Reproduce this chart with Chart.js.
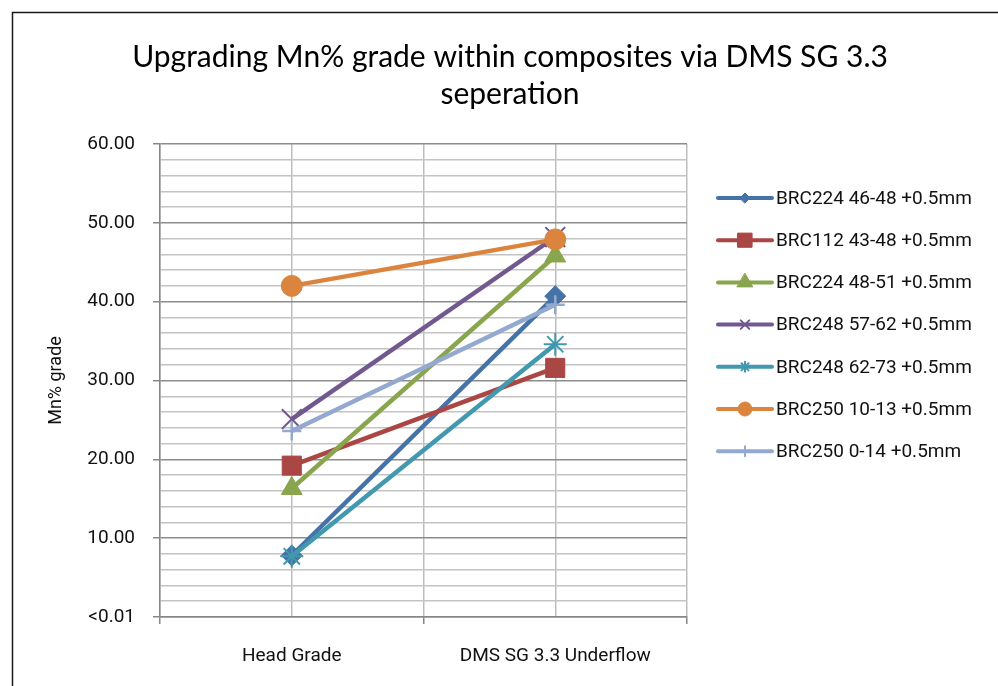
<!DOCTYPE html>
<html>
<head>
<meta charset="utf-8">
<script src="https://cdn.jsdelivr.net/npm/chart.js@4/dist/chart.umd.min.js"></script>
<style>
  html, body { margin: 0; padding: 0; background: #ffffff; }
  #wrap { position: relative; width: 998px; height: 686px; }
  canvas { display: block; }
</style>
</head>
<body>
<div id="wrap"><canvas id="c" width="998" height="686"></canvas></div>
<script>
// ---- data ----
const categories = ['Head Grade', 'DMS SG 3.3 Underflow'];
const seriesNames = [
  'BRC224 46-48 +0.5mm',
  'BRC112 43-48 +0.5mm',
  'BRC224 48-51 +0.5mm',
  'BRC248 57-62 +0.5mm',
  'BRC248 62-73 +0.5mm',
  'BRC250 10-13 +0.5mm',
  'BRC250 0-14 +0.5mm'
];
const brc224_46_48 = [7.8, 40.7];
const brc112_43_48 = [19.2, 31.6];
const brc224_48_51 = [16.3, 45.8];
const brc248_57_62 = [25.1, 48.2];
const brc248_62_73 = [7.7, 34.6];
const brc250_10_13 = [42.0, 47.9];
const brc250_0_14  = [23.6, 39.6];
const yTickLabels = ['<0.01', '10.00', '20.00', '30.00', '40.00', '50.00', '60.00'];
const titleLines = ['Upgrading Mn% grade within composites via DMS SG 3.3', 'seperation'];
const yTitle = 'Mn% grade';

// ---- styles ----
const seriesValues = [brc224_46_48, brc112_43_48, brc224_48_51, brc248_57_62, brc248_62_73, brc250_10_13, brc250_0_14];
const colors = ['#4572A7', '#AA4643', '#89A54E', '#71588F', '#4198AF', '#DB843D', '#93A9CF'];
const markers = ['rectRot', 'rect', 'triangle', 'crossRot', 'star', 'circle', 'cross'];
const markerRadius = [10.5, 13.5, 12, 14, 11.5, 10.5, 9.5];
const markerBorder = [1, 1, 1, 2, 2, 1, 2.5];
const legendRadius = [5, 10, 9, 6, 5, 7, 5];

const FONT = 'Roboto, "Liberation Sans", Arial, sans-serif';

const datasets = seriesValues.map((vals, i) => ({
  label: seriesNames[i],
  data: vals.map((v, k) => ({ x: k, y: v })),
  borderColor: colors[i],
  backgroundColor: colors[i],
  borderWidth: 4.5,
  pointStyle: markers[i],
  pointRadius: markerRadius[i],
  pointHoverRadius: markerRadius[i],
  pointBorderWidth: markerBorder[i],
  pointBorderColor: colors[i],
  pointBackgroundColor: colors[i],
  tension: 0,
  order: -i
}));

const framePlugin = {
  id: 'frame',
  beforeDraw(chart) {
    const ctx = chart.ctx;
    ctx.save();
    ctx.fillStyle = '#ffffff';
    ctx.fillRect(0, 0, chart.width, chart.height);
    ctx.strokeStyle = '#1a1a1a';
    ctx.lineWidth = 1.5;
    ctx.beginPath();
    ctx.moveTo(12.5, chart.height + 2);
    ctx.lineTo(12.5, 12.5);
    ctx.lineTo(chart.width + 2, 12.5);
    ctx.stroke();
    ctx.restore();
  }
};

const legendPlugin = {
  id: 'customLegend',
  afterDraw(chart) {
    const ctx = chart.ctx;
    const x0 = 718, x1 = 772, y0 = 198, dy = 42.2;
    ctx.save();
    chart.data.datasets.forEach((ds, i) => {
      const y = y0 + i * dy;
      ctx.strokeStyle = ds.borderColor;
      ctx.lineWidth = 4;
      ctx.lineCap = 'round';
      ctx.beginPath();
      ctx.moveTo(x0, y);
      ctx.lineTo(x1, y);
      ctx.stroke();
      ctx.fillStyle = ds.backgroundColor;
      ctx.strokeStyle = ds.borderColor;
      ctx.lineWidth = Math.min(ds.pointBorderWidth, 2);
      Chart.helpers.drawPoint(ctx, { pointStyle: ds.pointStyle, radius: legendRadius[i], rotation: 0, borderWidth: ctx.lineWidth }, (x0 + x1) / 2, y);
      ctx.fillStyle = '#111111';
      ctx.font = '19px ' + FONT;
      ctx.textAlign = 'left';
      ctx.textBaseline = 'middle';
      ctx.fillText(ds.label, 776, y + 1);
    });
    ctx.restore();
  }
};

new Chart(document.getElementById('c'), {
  type: 'line',
  data: { datasets },
  plugins: [framePlugin, legendPlugin],
  options: {
    responsive: false,
    animation: false,
    events: [],
    layout: { padding: { left: 22, top: 0, right: 0, bottom: 0 } },
    plugins: {
      legend: { display: false },
      tooltip: { enabled: false },
      title: {
        display: true,
        text: titleLines,
        color: '#000000',
        font: { family: 'Lato, "Open Sans", sans-serif', size: 30, weight: 'normal', lineHeight: 1.22 },
        padding: { top: 39, bottom: 31.8 }
      }
    },
    scales: {
      x: {
        type: 'linear',
        position: 'bottom',
        min: -0.5,
        max: 1.5,
        afterFit(scale) { scale.height = 69; },
        afterBuildTicks(scale) {
          scale.ticks = [-0.5, 0, 0.5, 1, 1.5].map(v => ({ value: v }));
        },
        ticks: {
          autoSkip: false,
          maxRotation: 0,
          padding: 21,
          color: '#111111',
          font: { family: FONT, size: 19 },
          callback: (v) => Number.isInteger(v) ? categories[v] : ''
        },
        grid: {
          color: '#bdbdbd',
          lineWidth: 1.5,
          drawTicks: true,
          tickLength: 7,
          tickColor: (c) => (c.tick && Number.isInteger(c.tick.value)) ? 'rgba(0,0,0,0)' : '#868686',
          tickWidth: 1.5
        },
        border: { display: true, color: '#868686', width: 1.5 }
      },
      y: {
        type: 'linear',
        position: 'left',
        min: 0,
        max: 60,
        afterFit(scale) { scale.width = 138; },
        ticks: {
          stepSize: 2,
          autoSkip: false,
          padding: 18,
          color: '#111111',
          font: { family: FONT, size: 19 },
          callback: (v) => (v % 10 === 0) ? yTickLabels[v / 10] : ''
        },
        grid: {
          color: (c) => (c.tick && c.tick.value % 10 === 0) ? '#8c8c8c' : '#c4c4c4',
          lineWidth: 1.5,
          drawTicks: true,
          tickLength: 7,
          tickColor: (c) => (c.tick && c.tick.value % 10 === 0) ? '#868686' : 'rgba(0,0,0,0)',
          tickWidth: 1.5
        },
        border: { display: true, color: '#868686', width: 1.5 },
        title: {
          display: true,
          text: yTitle,
          color: '#111111',
          font: { family: FONT, size: 18 },
          padding: { top: 24, bottom: 0 }
        }
      },
      spacer: {
        type: 'linear',
        position: 'right',
        min: 0,
        max: 1,
        afterFit(scale) { scale.width = 311; },
        ticks: { display: false },
        grid: { display: false, drawTicks: false },
        border: { display: false }
      }
    }
  }
});
</script>
</body>
</html>
